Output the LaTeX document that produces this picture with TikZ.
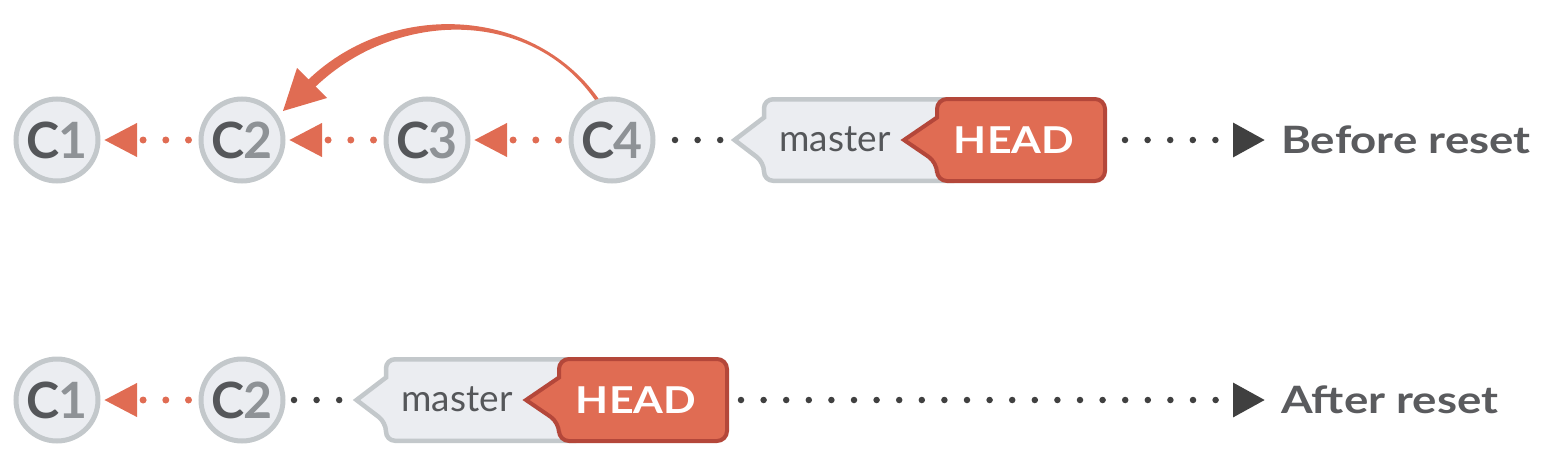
\documentclass[tikz,border=0pt]{standalone}
\usepackage{fontspec}
\setmainfont{Lato}
\newfontfamily\widefont{Lato}[FakeStretch=1.16]
\newfontfamily\labelfont{Lato}[FakeStretch=1.21]
\usetikzlibrary{positioning, arrows.meta, calc}

\definecolor{commitfill}{HTML}{EBEDF1}
\definecolor{commitline}{HTML}{C3C8CB}
\definecolor{letterdark}{HTML}{55575A}
\definecolor{digitgray}{HTML}{8E9296}
\definecolor{gitred}{HTML}{E06C53}
\definecolor{gitredline}{HTML}{B4473A}
\definecolor{dotdark}{HTML}{404040}
\definecolor{labelgray}{HTML}{5A5B5E}

\newcommand{\commitname}[1]{{\color{letterdark}C}\kern-2pt{\color{digitgray}#1}}

% master + HEAD pair, #1 suffix, #2/#3 position of the tip
\newcommand{\branchtags}[3]{%
  \begin{scope}[shift={(#2,#3)}]
    \draw[mastertag] (1.5,0) -- (31,-22.5) [rounded corners=9pt] -- (31,-40.75) -- (230,-40.75)
      -- (230,40.75) -- (31,40.75) -- (31,22.5) [sharp corners] -- cycle;
    \draw[headtag] (171,0) -- (204,-22.5) [rounded corners=10pt] -- (204,-41) -- (372,-41)
      -- (372,41) -- (204,41) -- (204,22.5) [sharp corners] -- cycle;
    \coordinate (tip#1) at (0,0);
    \coordinate (end#1) at (374,0);
    \node[mastertext] (master#1) at (102,-1) {master};
    \node[headtext]   (head#1)   at (281,0)  {HEAD};
  \end{scope}}

\tikzset{
  commit/.style={circle, draw=commitline, fill=commitfill, line width=5pt,
    minimum size=82pt, inner sep=0pt, font=\fontsize{50}{50}\selectfont\bfseries},
  mastertag/.style={draw=commitline, fill=commitfill, line width=4.5pt},
  headtag/.style={draw=gitredline, fill=gitred, line width=4pt},
  mastertext/.style={inner sep=0pt, text=letterdark, font=\fontsize{37}{37}\selectfont},
  headtext/.style={inner sep=0pt, text=white, font=\widefont\fontsize{37}{37}\selectfont\bfseries},
  resetlabel/.style={inner sep=0pt, anchor=west, text=labelgray,
    font=\labelfont\fontsize{37.7}{38}\selectfont\bfseries},
  reddots/.style={draw=gitred, line width=7pt, line cap=round, dash pattern=on 0pt off 22.7pt,
    -{Triangle[length=33pt, width=32pt]}, shorten <=10pt, shorten >=3.5pt},
  darkdots/.style={draw=dotdark, line width=6.5pt, line cap=round, dash pattern=on 0pt off 22.6pt,
    shorten >=10pt},
  labelarrow/.style={-{Triangle[length=32pt, width=33pt]}, shorten >=16pt}
}

\begin{document}
\begin{tikzpicture}[x=1pt, y=-1pt, node distance=98pt]
  \useasboundingbox (0,0) rectangle (1544,466);

  % before reset
  \node[commit]               (C1) at (57,140) {\commitname{1}};
  \node[commit, right=of C1]  (C2) {\commitname{2}};
  \node[commit, right=of C2]  (C3) {\commitname{3}};
  \node[commit, right=of C3]  (C4) {\commitname{4}};
  \branchtags{A}{733}{140}
  \node[resetlabel] (before) at (1281,140) {Before reset};

  \draw[reddots] (C2.west) -- (C1.east);
  \draw[reddots] (C3.west) -- (C2.east);
  \draw[reddots] (C4.west) -- (C3.east);
  \draw[darkdots, shorten <=19.5pt] (C4.east) -- (tipA);
  \draw[darkdots, labelarrow, shorten <=18pt] (endA) -- (before.west);

  % reset arrow C4 -> C2
  \coordinate (bendtip) at ($(C2.center)+(41,-29)$);
  \fill[gitred] (C4.108) .. controls (530,3.5) and (387,1) .. ($(bendtip)+(22.5,-28.6)$)
    -- ($(bendtip)+(29.5,-21.4)$) .. controls (393,9.5) and (530,6.5) .. (C4.113) -- cycle;
  \fill[gitred] (bendtip) -- ($(bendtip)+(14,-43)$) -- ($(bendtip)+(29,-28)$)
    -- ($(bendtip)+(44,-13)$) -- cycle;

  % after reset
  \node[commit]                (C1b) at (57,400) {\commitname{1}};
  \node[commit, right=of C1b]  (C2b) {\commitname{2}};
  \branchtags{B}{355}{400}
  \node[resetlabel] (after) at (1281,400) {After reset};

  \draw[reddots] (C2b.west) -- (C1b.east);
  \draw[darkdots, shorten <=8.5pt] (C2b.east) -- (tipB);
  \draw[darkdots, labelarrow, shorten <=12pt] (endB) -- (after.west);
\end{tikzpicture}
\end{document}
